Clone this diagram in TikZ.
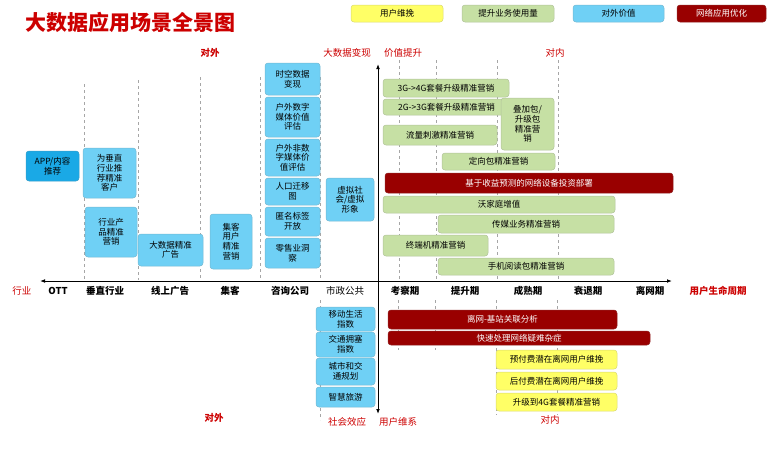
\documentclass[tikz,border=0pt]{standalone}
\usepackage{fontspec}
\setmainfont{Noto Sans CJK SC}
\usetikzlibrary{arrows.meta}
\definecolor{lb}{HTML}{6FD0F5}
\definecolor{db}{HTML}{1AA9E6}
\definecolor{gr}{HTML}{C6E0A4}
\definecolor{rd}{HTML}{990000}
\definecolor{yl}{HTML}{FFFF66}
\definecolor{tr}{HTML}{CC0000}
\tikzset{
 bx/.style={rounded corners=3pt,draw=#1!70!gray,line width=0.5pt,align=center,font=\fontsize{8.5}{9.6}\selectfont,inner sep=0pt},
 blue/.style={bx=lb,fill=lb},
 green/.style={bx=gr,fill=gr},
 red/.style={bx=rd,fill=rd,text=white},
 yel/.style={bx=yl,fill=yl},
 dl/.style={dashed,gray!70,line width=0.6pt},
 ax/.style={line width=1pt,-{Latex[length=5pt]}},
 lab/.style={font=\fontsize{9.5}{11}\selectfont\bfseries},
 rlab/.style={font=\fontsize{9.5}{11}\selectfont,text=tr},
}
\newcommand{\bxn}[6]{\node[#1,minimum width=#4-#2,minimum height=#5-#3] (#6) at ({(#2+#4)/2},{(#3+#5)/2})}
\begin{document}
\begin{tikzpicture}[x=1pt,y=-1pt]
\useasboundingbox (0,0) rectangle (768,469);
\node[anchor=west,text=tr,font=\fontsize{21}{24}\selectfont\bfseries] (title) at (22,22) {大数据应用场景全景图};
% legend
\bxn{yel}{351}{5}{443}{22}{l1} {用户维挽};
\bxn{green}{462}{5}{554}{22}{l2} {提升业务使用量};
\bxn{blue}{573}{5}{664}{22}{l3} {对外价值};
\bxn{red}{677}{5}{766}{22}{l4} {网络应用优化};
% dashed lines
\foreach \x/\a/\b in {84/84/280,138/80/280,200/77/280,260/77/280,320/77/280,399/60/280,436/60/280,497/60/280,558/60/280,320/300/420,398/300/350,435/300/350,496/300/415,557/300/415}
  \draw[dl] (\x,\a) -- (\x,\b);
% axes
\coordinate (xr) at (672,281); \coordinate (xl) at (40,281);
\coordinate (o) at (378,281);
\coordinate (yt) at (378,64); \coordinate (yb) at (378,414);
\draw[ax] (o) -- (xr);
\draw[ax] (o) -- (xl);
\draw[ax] (o) -- (yt);
\draw[ax] (o) -- (yb);
% axis labels
\node[rlab] (t0) at (22,291) {行业};
\foreach \x/\t [count=\i] in {58/OTT,105/垂直行业,170/线上广告,230/集客,290/咨询公司,405/考察期,465/提升期,528/成熟期,588/衰退期,650/离网期}
  \node[lab] (t\i) at (\x,291) {\t};
\node[font=\fontsize{9.5}{11}\selectfont] (t11) at (345,291) {市政公共};
\node[rlab,font=\fontsize{9.5}{11}\selectfont\bfseries] (t12) at (718,291) {用户生命周期};
\node[rlab,font=\fontsize{9.5}{11}\selectfont\bfseries] (u1) at (210,53) {对外};
\node[rlab] (u2) at (347,53) {大数据变现};
\node[rlab] (u3) at (403,53) {价值提升};
\node[rlab] (u4) at (555,53) {对内};
\node[rlab,font=\fontsize{9.5}{11}\selectfont\bfseries] (d1) at (214,418) {对外};
\node[rlab] (d2) at (347,422) {社会效应};
\node[rlab] (d3) at (398,422) {用户维系};
\node[rlab] (d4) at (550,420) {对内};
% blue boxes
\bxn{bx=db,fill=db}{26}{151}{79}{181}{b1} {APP/内容\\推荐};
\bxn{blue}{83}{148}{136}{198}{b2} {为垂直\\行业推\\荐精准\\客户};
\bxn{blue}{85}{207}{137}{257}{b3} {行业产\\品精准\\营销};
\bxn{blue}{138}{234}{203}{266}{b4} {大数据精准\\广告};
\bxn{blue}{210}{214}{252}{269}{b5} {集客\\用户\\精准\\营销};
\bxn{blue}{265}{63}{320}{95}{c1} {时空数据\\变现};
\bxn{blue}{265}{97}{320}{137}{c2} {户外数字\\媒体价值\\评估};
\bxn{blue}{265}{139}{320}{176}{c3} {户外非数\\字媒体价\\值评估};
\bxn{blue}{265}{178}{320}{205}{c4} {人口迁移\\图};
\bxn{blue}{265}{207}{320}{236}{c5} {匿名标签\\开放};
\bxn{blue}{265}{238}{320}{268}{c6} {零售业洞\\察};
\bxn{blue}{326}{178}{374}{221}{v1} {虚拟社\\会/虚拟\\形象};
\bxn{blue}{316}{307}{375}{331}{m1} {移动生活\\指数};
\bxn{blue}{316}{332}{375}{357}{m2} {交通拥塞\\指数};
\bxn{blue}{316}{358}{375}{385}{m3} {城市和交\\通规划};
\bxn{blue}{316}{387}{375}{407}{m4} {智慧旅游};
% green
\bxn{green}{383}{79}{509}{97}{g1} {3G->4G套餐升级精准营销};
\bxn{green}{383}{99}{510}{115}{g2} {2G->3G套餐升级精准营销};
\bxn{green}{383}{125}{497}{145}{g3} {流量刺激精准营销};
\bxn{green}{501}{98}{554}{150}{g4} {叠加包/\\升级包\\精准营\\销};
\bxn{green}{442}{153}{555}{170}{g5} {定向包精准营销};
\bxn{red}{385}{173}{673}{193}{r1} {基于收益预测的网络设备投资部署};
\bxn{green}{383}{196}{615}{213}{g6} {沃家庭增值};
\bxn{green}{438}{215}{614}{233}{g7} {传媒业务精准营销};
\bxn{green}{383}{235}{488}{256}{g8} {终端机精准营销};
\bxn{green}{438}{258}{614}{275}{g9} {手机阅读包精准营销};
% lower right
\bxn{red}{388}{310}{617}{329}{r2} {离网-基站关联分析};
\bxn{red}{388}{331}{650}{345}{r3} {快速处理网络疑难杂症};
\bxn{yel}{496}{350}{617}{369}{y1} {预付费潜在离网用户维挽};
\bxn{yel}{496}{372}{617}{390}{y2} {后付费潜在离网用户维挽};
\bxn{yel}{496}{393}{617}{411}{y3} {升级到4G套餐精准营销};
\end{tikzpicture}
\end{document}
